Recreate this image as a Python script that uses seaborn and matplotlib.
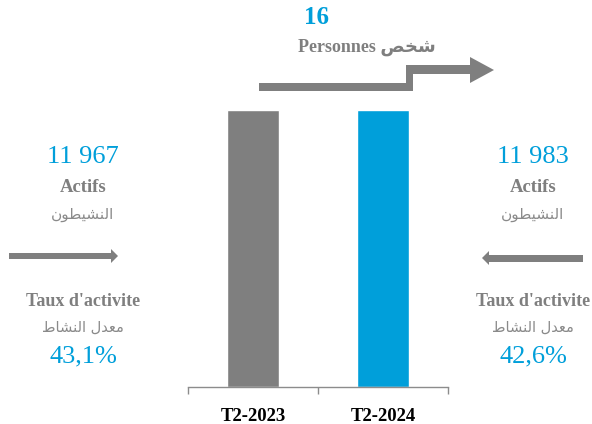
import matplotlib
matplotlib.use("Agg")
import matplotlib.pyplot as plt
import seaborn as sns
import pandas as pd
from matplotlib.patches import Polygon

# ---------------- data ----------------
categories = ["T2-2023", "T2-2024"]
actifs = [11967, 11983]
bar_colors = ["#7f7f7f", "#009fda"]
taux = ["43,1%", "42,6%"]
actifs_labels = ["11 967", "11 983"]
diff_label = "16"
# Arabic text given in shaped (presentation) forms, visual order
ar_actifs = "\uFEE5\uFEEE\uFEC4\uFEF4\uFEB8\uFEE8\uFEDF\uFE8D"        # النشيطون
ar_taux = "\uFEC1\uFE8E\uFEB8\uFEE8\uFEDF\uFE8D \uFEDD\uFEAA\uFECC\uFEE3"  # معدل النشاط
ar_pers = "\uFEBA\uFEA8\uFEB7"                                          # شخص

df = pd.DataFrame({"periode": categories, "actifs": actifs})

sns.set_theme(style="white")
plt.rcParams["font.family"] = ["Liberation Serif", "DejaVu Sans"]
SERIF = ["Liberation Serif"]
AR = ["DejaVu Sans"]

W, H = 592, 424
fig = plt.figure(figsize=(W / 100, H / 100), dpi=100)

def fx(px):
    return px / W

def fy(py):
    return 1 - py / H

ymax = 12000
ax_left, ax_right, ax_bottom = 188, 448, 387
top_px = ax_bottom - (ax_bottom - 110) * ymax / max(actifs)
ax = fig.add_axes([fx(ax_left), fy(ax_bottom), fx(ax_right - ax_left), (ax_bottom - top_px) / H])

sns.barplot(data=df, x="periode", y="actifs", hue="periode", palette=bar_colors,
            width=0.4, ax=ax, legend=False, saturation=1)
ax.set_xlim(-0.5, 1.5)
ax.set_ylim(0, ymax)
ax.set_xlabel("")
ax.set_ylabel("")
ax.set_yticks([])
for s in ["top", "left", "right"]:
    ax.spines[s].set_visible(False)
ax.spines["bottom"].set_color("#8c8c8c")
ax.spines["bottom"].set_linewidth(1.0)
ax.set_xticks([-0.5, 0.5, 1.5])
ax.set_xticklabels([])
ax.tick_params(axis="x", which="major", length=5, color="#8c8c8c", width=1.0, direction="out", bottom=True)
ax.set_xticks([0, 1], minor=True)
ax.set_xticklabels(categories, minor=True, fontsize=13.5, fontweight="bold", color="black",
                   fontfamily=SERIF)
ax.tick_params(axis="x", which="minor", length=0, pad=15)

gray = "#7f7f7f"
ar_gray = "#8a8a8a"
blue = "#009fda"

# side annotations
for cx, lab, pct in [(83, actifs_labels[0], taux[0]), (533, actifs_labels[1], taux[1])]:
    fig.text(fx(cx), fy(157), lab, ha="center", va="center", fontsize=19, color=blue,
             fontfamily=SERIF)
    fig.text(fx(cx), fy(188), "Actifs", ha="center", va="center", fontsize=13.5,
             fontweight="bold", color=gray, fontfamily=SERIF)
    fig.text(fx(cx), fy(214), ar_actifs, ha="center", va="center", fontsize=11,
             color=ar_gray, fontfamily=AR)
    fig.text(fx(cx), fy(302), "Taux d'activite", ha="center", va="center", fontsize=13,
             fontweight="bold", color=gray, fontfamily=SERIF)
    fig.text(fx(cx), fy(327), ar_taux, ha="center", va="center", fontsize=10.5,
             color=ar_gray, fontfamily=AR)
    fig.text(fx(cx), fy(356), pct, ha="center", va="center", fontsize=19, color=blue,
             fontfamily=SERIF)

# top annotation
fig.text(fx(316), fy(17), diff_label, ha="center", va="center", fontsize=18,
         fontweight="bold", color=blue, fontfamily=SERIF)
fig.text(fx(367), fy(47), "Personnes " + ar_pers, ha="center", va="center", fontsize=13,
         fontweight="bold", color=gray, fontfamily=["Liberation Serif", "DejaVu Sans"])

arrow_gray = "#7f7f7f"

def poly(pts):
    p = Polygon([(fx(x), fy(y)) for x, y in pts], closed=True, transform=fig.transFigure,
                facecolor=arrow_gray, edgecolor="none")
    fig.patches.append(p)

# step arrow
poly([(259, 91), (413, 91), (413, 74), (470, 74), (470, 83), (494, 70),
      (470, 57), (470, 65), (406, 65), (406, 83), (259, 83)])
# left arrow (pointing right)
poly([(9, 253), (111, 253), (111, 249), (118, 256), (111, 263), (111, 259), (9, 259)])
# right arrow (pointing left)
poly([(583, 255), (489, 255), (489, 251), (482, 258), (489, 265), (489, 262), (583, 262)])

fig.savefig("out.png", dpi=100)
